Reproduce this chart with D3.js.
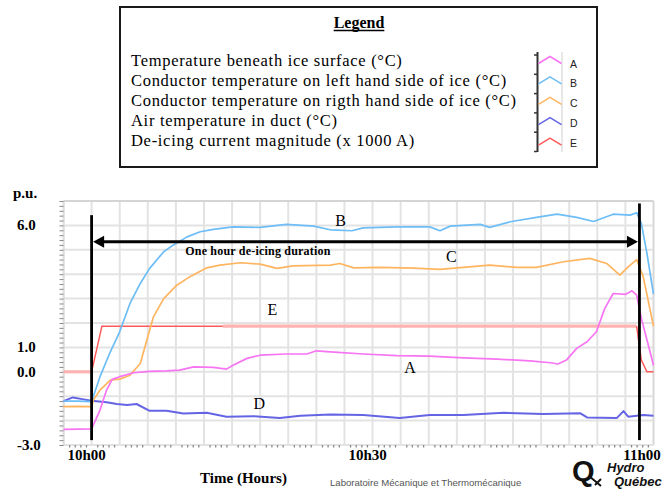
<!DOCTYPE html>
<html>
<head>
<meta charset="utf-8">
<script src="https://cdn.jsdelivr.net/npm/d3@7"></script>
<style>
  body { margin: 0; background: #fff; }
  svg { display: block; }
</style>
</head>
<body>
<div id="chart"></div>
<script>
// minutes after 10h00
const timeA = [-3, 0, 0.9, 1.6, 2.2, 3, 4.5, 6.2, 8, 9.4, 10.9, 13, 14.4, 15.1, 16.6, 18, 20.8, 23, 24, 25.5, 29, 32.6, 36.1, 39.7, 43.3, 46.8, 49, 49.8, 50.7, 51.8, 52.9, 53.9, 54.8, 55.7, 57, 57.7, 58.2, 58.7, 59.5, 60];
const valueA = [-2.36, -2.34, -1.57, -0.75, -0.31, -0.2, -0.04, 0.02, 0.04, 0.07, 0.2, 0.18, 0.11, 0.27, 0.55, 0.68, 0.73, 0.73, 0.86, 0.82, 0.73, 0.66, 0.64, 0.57, 0.52, 0.45, 0.37, 0.32, 0.48, 0.96, 1.23, 1.64, 2.6, 3.21, 3.17, 3.32, 3.14, 2.19, 1.02, 0.27];

const timeB = [-3, -1.5, 0, 0.9, 2, 3, 4.1, 5.2, 6.2, 7.7, 8.7, 10.2, 11.6, 13, 15.1, 18, 20.8, 23.7, 25.5, 27.8, 29, 32.6, 36.1, 37.2, 38.3, 41.5, 42.5, 44.7, 47.5, 49.7, 51.8, 53.6, 55.7, 57.5, 58.2, 58.7, 59.3, 60];
const valueB = [-1.2, -1.2, -1.22, -0.2, 0.82, 1.64, 2.8, 3.62, 4.24, 4.92, 5.19, 5.53, 5.74, 5.84, 5.94, 5.92, 6.04, 5.97, 5.82, 5.78, 5.9, 5.94, 5.94, 5.78, 5.97, 6.04, 5.92, 6.15, 6.33, 6.46, 6.33, 6.16, 6.46, 6.42, 6.52, 6.08, 4.85, 3.18];

const timeC = [-3, -1.5, 0, 0.2, 0.9, 2, 3, 4.1, 5.2, 5.9, 6.6, 7.7, 9.1, 10.5, 12.3, 13.7, 15.9, 18, 19.8, 21.5, 25.5, 26.5, 28, 30.8, 34.4, 37.2, 39.7, 42.5, 45.4, 47.5, 50.4, 53.2, 55, 56.4, 57.3, 58.2, 58.9, 60];
const valueC = [-1.43, -1.42, -1.43, -1.15, -0.75, -0.34, -0.3, -0.14, 0.34, 1.3, 2.25, 3.0, 3.55, 3.9, 4.26, 4.37, 4.47, 4.41, 4.24, 4.34, 4.37, 4.44, 4.26, 4.28, 4.25, 4.2, 4.28, 4.37, 4.28, 4.28, 4.51, 4.65, 4.44, 3.96, 4.3, 4.6, 3.9, 1.87];

const timeD = [-3, -2, -1, 0, 1.6, 2.7, 3.8, 4.8, 6.2, 8, 9.8, 12.3, 14.4, 17.3, 20.1, 22.3, 25.5, 29, 32.9, 36.1, 39.7, 44, 48.2, 52.2, 52.9, 56.1, 56.8, 57.3, 58.9, 60];
const valueD = [-1.2, -1.05, -1.12, -1.19, -1.25, -1.32, -1.36, -1.32, -1.6, -1.6, -1.71, -1.68, -1.84, -1.82, -1.89, -1.8, -1.75, -1.77, -1.89, -1.77, -1.77, -1.68, -1.73, -1.7, -1.87, -1.89, -1.61, -1.84, -1.77, -1.8];

const timeE = [-3, 0, 1.1, 14, 58.2, 58.7, 59.3, 60];
const valueE = [0, 0, 1.87, 1.87, 1.87, 0.48, 0, 0];
// time ranges of E drawn crisp red, and pale pink
const crispE = [[0, 14], [58.2, 60]];
const paleERanges = [[-3, 0], [14, 58.2]];

const seriesNames = ["A", "B", "C", "D", "E"];
const legendLabels = [
  "Temperature beneath ice surface (°C)",
  "Conductor temperature on left hand side of ice (°C)",
  "Conductor temperature on rigth hand side of ice (°C)",
  "Air temperature in duct (°C)",
  "De-icing current magnitude (x 1000 A)"
];
// where the curve letters sit [minutes, p.u.]
const curveLabelTime = [34.0, 26.6, 38.4, 17.9, 19.3];
const curveLabelValue = [0.16, 6.22, 4.72, -1.3, 2.57];

const yTickValues = [6, 1, 0, -3];
const yTickLabels = ["6.0", "1.0", "0.0", "-3.0"];
const xTickValues = [0, 30, 60];
const xTickLabels = ["10h00", "10h30", "11h00"];

// de-icing start / end markers (minutes)
const deicingStart = 0;
const deicingEnd = 58.5;

const width = 663;
const height = 489;
const serif = "'Liberation Serif', 'Times New Roman', serif";
const sans = "'Liberation Sans', Arial, sans-serif";

const colors = ["#f774f2", "#6dbdf6", "#ffb560", "#6464e4", "#ff5a5a"];
const paleE = "#ffb2b2";

const svg = d3.select("#chart")
  .append("svg")
  .attr("width", width)
  .attr("height", height);

const x = d3.scaleLinear().domain([-3, 60]).range([63.5, 653.5]);
const y = d3.scaleLinear().domain([-3, 7]).range([445, 201]);

// ---- grid
const grid = svg.append("g");
grid.selectAll(".vg")
  .data(d3.range(-3, 60.1, 3))
  .enter().append("line")
  .attr("x1", d => x(d)).attr("x2", d => x(d))
  .attr("y1", y(7)).attr("y2", y(-3))
  .attr("stroke", "#e3e3e3").attr("stroke-width", 2);
grid.selectAll(".hg")
  .data(d3.range(-3, 7.1, 1))
  .enter().append("line")
  .attr("x1", x(-3)).attr("x2", x(60))
  .attr("y1", d => y(d)).attr("y2", d => y(d))
  .attr("stroke", "#e3e3e3").attr("stroke-width", 2);
grid.append("line")
  .attr("x1", x(-3)).attr("x2", x(60)).attr("y1", y(7)).attr("y2", y(7))
  .attr("stroke", "#cfcfcf").attr("stroke-width", 1.5);
grid.append("line")
  .attr("x1", x(60)).attr("x2", x(60)).attr("y1", y(7)).attr("y2", y(-3))
  .attr("stroke", "#d8d8d8").attr("stroke-width", 1.5);

// minor ticks
const yAxis = svg.append("g")
  .attr("transform", `translate(${x(-3)},0)`)
  .call(d3.axisLeft(y).tickValues(d3.range(-3, 7.01, 0.2)).tickSize(4).tickFormat(""));
yAxis.select(".domain").attr("stroke", "#d8d8d8");
yAxis.selectAll(".tick line").attr("stroke", "#8a8a8a");

const minorX = d3.range(-3, 60.01, 0.6).filter(d => Math.abs(d / 3 - Math.round(d / 3)) > 0.01);
const xAxis = svg.append("g")
  .attr("transform", `translate(0,${y(-3)})`)
  .call(d3.axisBottom(x).tickValues(minorX).tickSize(2.5).tickFormat(""));
xAxis.select(".domain").remove();
xAxis.selectAll(".tick line").attr("stroke", "#8a8a8a").attr("stroke-width", 1.3);

// tick labels
svg.selectAll(".ylab")
  .data(yTickValues)
  .enter().append("text")
  .attr("x", 17)
  .attr("y", d => y(d) + 5)
  .text((d, i) => yTickLabels[i])
  .style("font-family", serif).style("font-weight", "bold").style("font-size", "15px");
svg.append("text")
  .attr("x", 13).attr("y", 198)
  .text("p.u.")
  .style("font-family", serif).style("font-weight", "bold").style("font-size", "15px");

// last label is pushed against the right edge so it is not clipped
svg.selectAll(".xlab")
  .data(xTickValues)
  .enter().append("text")
  .attr("x", d => Math.min(x(d) - 5, width - 21))
  .attr("y", 459.5)
  .attr("text-anchor", "middle")
  .text((d, i) => xTickLabels[i])
  .style("font-family", serif).style("font-weight", "bold").style("font-size", "15px");

svg.append("text")
  .attr("x", 243.5).attr("y", 483)
  .attr("text-anchor", "middle")
  .text("Time (Hours)")
  .style("font-family", serif).style("font-weight", "bold").style("font-size", "15px");

// ---- curves
const line = d3.line()
  .x(d => x(d[0]))
  .y(d => y(d[1]));

const series = [
  d3.zip(timeA, valueA),
  d3.zip(timeB, valueB),
  d3.zip(timeC, valueC),
  d3.zip(timeD, valueD),
  d3.zip(timeE, valueE)
];

const inRange = r => d => d[0] >= r[0] && d[0] <= r[1];
const curves = svg.append("g");
paleERanges.forEach(r => {
  curves.append("path")
    .attr("d", line(series[4].filter(inRange(r))))
    .attr("fill", "none")
    .attr("stroke", paleE)
    .attr("stroke-width", 3.2);
});
crispE.forEach(r => {
  curves.append("path")
    .attr("d", line(series[4].filter(inRange(r))))
    .attr("fill", "none")
    .attr("stroke", colors[4])
    .attr("stroke-width", 1.5);
});

[3, 2, 1, 0].forEach(i => {
  curves.append("path")
    .attr("d", line(series[i]))
    .attr("fill", "none")
    .attr("stroke", colors[i])
    .attr("stroke-width", i === 3 ? 2 : 1.7)
    .attr("stroke-linejoin", "round");
});

// curve letters
svg.selectAll(".clab")
  .data(seriesNames)
  .enter().append("text")
  .attr("x", (d, i) => x(curveLabelTime[i]))
  .attr("y", (d, i) => y(curveLabelValue[i]) + 5.5)
  .attr("text-anchor", "middle")
  .text(d => d)
  .style("font-family", serif).style("font-size", "16px");

// ---- de-icing duration markers
const marks = svg.append("g").attr("stroke", "#000");
marks.append("line")
  .attr("x1", x(deicingStart)).attr("x2", x(deicingStart))
  .attr("y1", y(6.42)).attr("y2", y(-2.8))
  .attr("stroke-width", 2.8);
marks.append("line")
  .attr("x1", x(deicingEnd)).attr("x2", x(deicingEnd))
  .attr("y1", y(6.9)).attr("y2", y(-2.8))
  .attr("stroke-width", 2.8);
const arrowY = y(5.33);
marks.append("line")
  .attr("x1", x(deicingStart) + 6).attr("x2", x(deicingEnd) - 6)
  .attr("y1", arrowY).attr("y2", arrowY)
  .attr("stroke-width", 3);
svg.append("path")
  .attr("d", `M${x(deicingStart) + 1.5},${arrowY} l11,-6 l0,12 z`)
  .attr("fill", "#000");
svg.append("path")
  .attr("d", `M${x(deicingEnd) - 1.5},${arrowY} l-11,-6 l0,12 z`)
  .attr("fill", "#000");
svg.append("text")
  .attr("x", x(10)).attr("y", y(4.79))
  .text("One hour de-icing duration")
  .style("font-family", serif).style("font-weight", "bold").style("font-size", "12px")
  .style("letter-spacing", "0.2px");

// ---- legend box
const legend = svg.append("g");
legend.append("rect")
  .attr("x", 120).attr("y", 7)
  .attr("width", 477).attr("height", 160)
  .attr("fill", "#fff").attr("stroke", "#1a1a1a").attr("stroke-width", 2);
const title = legend.append("text")
  .attr("x", 359).attr("y", 28)
  .attr("text-anchor", "middle")
  .text("Legend")
  .style("font-family", serif).style("font-weight", "bold").style("font-size", "16px");
const tw = title.node().getComputedTextLength();
legend.append("line")
  .attr("x1", 359 - tw / 2).attr("x2", 359 + tw / 2)
  .attr("y1", 30.5).attr("y2", 30.5)
  .attr("stroke", "#000").attr("stroke-width", 1.3);

const ltxt = legend.selectAll(".ltxt")
  .data(legendLabels)
  .enter().append("text")
  .attr("x", 131)
  .attr("y", (d, i) => 66 + i * 20)
  .text(d => d)
  .style("font-family", serif).style("font-size", "16.5px");
// the scanned legend is loosely spaced: widest line reaches x = 516
const widest = d3.max(ltxt.nodes(), n => n.getComputedTextLength());
const longest = d3.max(legendLabels, d => d.length);
const spacing = Math.max(0, (516 - 131 - widest) / (longest - 1));
ltxt.style("letter-spacing", spacing + "px");

const sw = legend.append("g");
sw.append("line")
  .attr("x1", 537.5).attr("x2", 537.5).attr("y1", 52).attr("y2", 152)
  .attr("stroke", "#333").attr("stroke-width", 2);
sw.append("line")
  .attr("x1", 562).attr("x2", 562).attr("y1", 52).attr("y2", 152)
  .attr("stroke", "#cfcfcf").attr("stroke-width", 1);
sw.selectAll(".stk")
  .data(d3.range(6))
  .enter().append("line")
  .attr("x1", 534).attr("x2", 537)
  .attr("y1", i => 55 + i * 19.3).attr("y2", i => 55 + i * 19.3)
  .attr("stroke", "#333").attr("stroke-width", 1.5);
sw.selectAll(".chev")
  .data(seriesNames)
  .enter().append("path")
  .attr("d", (d, i) => {
    const base = 63.5 + i * 20.4;
    return `M538.5,${base} L550,${base - 7} L561.5,${base}`;
  })
  .attr("fill", "none")
  .attr("stroke", (d, i) => colors[i])
  .attr("stroke-width", 1.5);
sw.selectAll(".slab")
  .data(seriesNames)
  .enter().append("text")
  .attr("x", 570)
  .attr("y", (d, i) => 67.5 + i * 19.8)
  .text(d => d)
  .style("font-family", sans).style("font-size", "10.5px").style("fill", "#222");

// ---- footer
svg.append("text")
  .attr("x", 330).attr("y", 486)
  .text("Laboratoire Mécanique et Thermomécanique")
  .style("font-family", sans).style("font-size", "9.6px").style("fill", "#555");

const logo = svg.append("g");
logo.append("text")
  .attr("x", 572).attr("y", 481)
  .text("Q")
  .style("font-family", sans).style("font-weight", "bold").style("font-size", "29px").style("fill", "#111");
logo.append("path")
  .attr("d", "M589,476 L601,486 M595,485 L601,479")
  .attr("stroke", "#111").attr("stroke-width", 2).attr("fill", "none");
logo.append("text")
  .attr("x", 607).attr("y", 472)
  .text("Hydro")
  .style("font-family", sans).style("font-style", "italic").style("font-weight", "bold").style("font-size", "13px").style("fill", "#111");
logo.append("text")
  .attr("x", 614).attr("y", 486)
  .text("Québec")
  .style("font-family", sans).style("font-style", "italic").style("font-weight", "bold").style("font-size", "13px").style("fill", "#111");
</script>
</body>
</html>
